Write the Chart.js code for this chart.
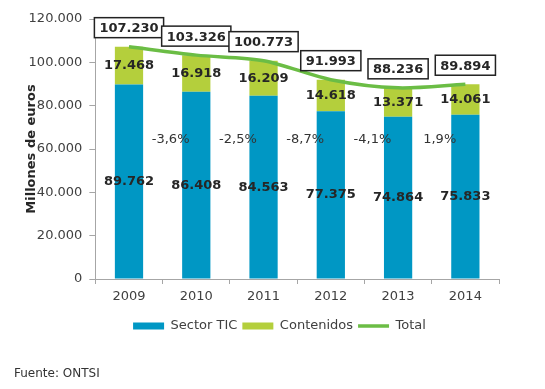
<!DOCTYPE html>
<html>
<head>
<meta charset="utf-8">
<script src="https://cdn.jsdelivr.net/npm/chart.js@4"></script>
<style>
  html, body { margin: 0; padding: 0; background: #fff; }
  #wrap { width: 545px; height: 389px; }
</style>
</head>
<body>
<div id="wrap"><canvas id="barChart"></canvas></div>
<script>
const years = ['2009', '2010', '2011', '2012', '2013', '2014'];
const sectorTIC = [89762, 86408, 84563, 77375, 74864, 75833];
const contenidos = [17468, 16918, 16209, 14618, 13371, 14061];
const total = [107230, 103326, 100773, 91993, 88236, 89894];
const variacion = ['-3,6%', '-2,5%', '-8,7%', '-4,1%', '1,9%'];

// formato español: 107.230
function fmt(v) {
  return String(v).replace(/\B(?=(\d{3})+(?!\d))/g, '.');
}

Chart.defaults.font.family = '"DejaVu Sans", Verdana, sans-serif';

// etiquetas de valores, cajas de totales y variaciones
const etiquetas = {
  id: 'etiquetas',
  afterDatasetsDraw(chart) {
    const ctx = chart.ctx;
    const x = chart.scales.x;
    const y = chart.scales.y;
    ctx.save();
    ctx.textAlign = 'center';
    ctx.textBaseline = 'middle';
    ctx.font = 'bold 13px "DejaVu Sans"';
    ctx.fillStyle = '#262626';
    [0, 1].forEach(d => {
      chart.getDatasetMeta(d).data.forEach((bar, i) => {
        ctx.fillText(fmt(chart.data.datasets[d].data[i]), bar.x, (bar.y + bar.base) / 2);
      });
    });

    chart.getDatasetMeta(2).data.forEach((pt, i) => {
      const txt = fmt(total[i]);
      const w = ctx.measureText(txt).width + 10;
      const h = 20;
      const cy = pt.y - 19;
      ctx.fillStyle = '#fff';
      ctx.fillRect(pt.x - w / 2, cy - h / 2, w, h);
      ctx.strokeStyle = '#222';
      ctx.lineWidth = 1.5;
      ctx.strokeRect(pt.x - w / 2, cy - h / 2, w, h);
      ctx.fillStyle = '#262626';
      ctx.fillText(txt, pt.x, cy + 1);
    });

    ctx.font = '13px "DejaVu Sans"';
    ctx.fillStyle = '#333';
    variacion.forEach((t, i) => {
      const xm = (x.getPixelForValue(i) + x.getPixelForValue(i + 1)) / 2 + 8;
      ctx.fillText(t, xm, y.getPixelForValue(64500));
    });
    ctx.restore();
  }
};

const ctx = document.getElementById('barChart').getContext('2d');
const grafico = new Chart(ctx, {
  type: 'bar',
  data: {
    labels: years,
    datasets: [
      {
        label: 'Sector TIC',
        data: sectorTIC,
        backgroundColor: '#0097C4',
        borderWidth: 0,
        pointStyle: 'rect',
        order: 1
      },
      {
        label: 'Contenidos',
        data: contenidos,
        backgroundColor: '#B4CF3C',
        borderWidth: 0,
        pointStyle: 'rect',
        order: 1
      },
      {
        type: 'line',
        label: 'Total',
        data: total,
        stack: 'linea',
        borderColor: '#6BBD45',
        backgroundColor: '#6BBD45',
        borderWidth: 3.5,
        pointRadius: 0,
        pointStyle: 'line',
        tension: 0.3,
        order: 0
      }
    ]
  },
  options: {
    responsive: true,
    maintainAspectRatio: false,
    animation: false,
    barPercentage: 0.42,
    categoryPercentage: 1,
    layout: { padding: { left: 14, right: 0, top: 19, bottom: 0 } },
    scales: {
      x: {
        stacked: true,
        ticks: { color: '#404040', font: { size: 13 }, padding: 5 },
        grid: { drawOnChartArea: false, tickLength: 5, color: '#a6a6a6' },
        border: { color: '#a6a6a6' },
        afterFit: s => { s.height += 5; }
      },
      y: {
        stacked: true,
        min: 0,
        max: 120000,
        ticks: { stepSize: 20000, callback: v => fmt(v), color: '#404040', font: { size: 13 }, padding: 7 },
        grid: { drawOnChartArea: false, tickLength: 6, color: '#a6a6a6' },
        border: { color: '#a6a6a6' },
        title: {
          display: true,
          text: 'Millones de euros',
          color: '#262626',
          font: { size: 13, weight: 'bold' },
          padding: { top: 10, bottom: -18 }
        }
      },
      // margen derecho vacío
      margen: {
        position: 'right',
        grid: { display: false },
        border: { display: false },
        ticks: { display: false },
        afterFit: s => { s.width = 46; }
      }
    },
    plugins: {
      legend: {
        position: 'bottom',
        labels: {
          usePointStyle: true,
          pointStyleWidth: 31,
          boxHeight: 7,
          color: '#404040',
          font: { size: 13 },
          padding: 5,
          sort: (a, b) => a.datasetIndex - b.datasetIndex
        }
      },
      title: {
        display: true,
        text: 'Fuente: ONTSI',
        position: 'bottom',
        align: 'start',
        color: '#333',
        font: { size: 12, weight: 'normal' },
        padding: { top: 24, bottom: 8 }
      },
      tooltip: { enabled: false }
    }
  },
  plugins: [etiquetas]
});
</script>
</body>
</html>
